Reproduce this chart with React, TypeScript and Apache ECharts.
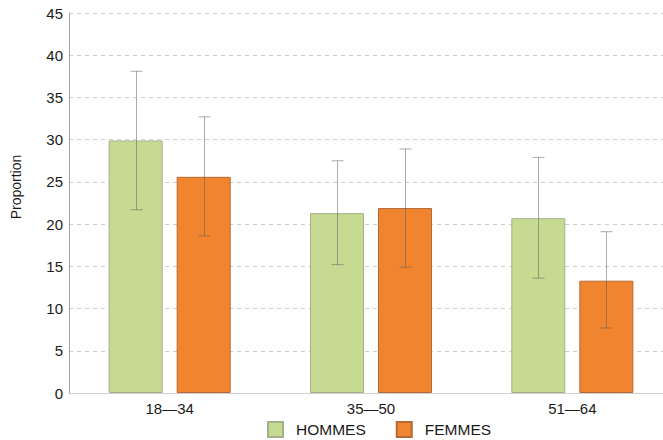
import React, { useEffect, useRef } from "react";
import * as echarts from "echarts";

const categories = ["18\u201434", "35\u201450", "51\u201464"];
const seriesNames = ["HOMMES", "FEMMES"];
const hommes = [29.9, 21.3, 20.7];
const femmes = [25.6, 21.9, 13.3];
const hommesLow = [21.7, 15.2, 13.6];
const hommesHigh = [38.1, 27.5, 27.9];
const femmesLow = [18.6, 14.9, 7.7];
const femmesHigh = [32.7, 28.9, 19.1];

const FONT = "Liberation Sans, Arial, sans-serif";
const BAR_W = 54;
const OFFSET = 34;

function errorSeries(low: number[], high: number[], dir: number) {
  return {
    type: "custom",
    silent: true,
    z: 5,
    data: low.map((l, i) => [i, l, high[i]]),
    encode: { x: 0, y: [1, 2] },
    renderItem: (params: any, api: any) => {
      const i = api.value(0);
      const lo = api.coord([i, api.value(1)]);
      const hi = api.coord([i, api.value(2)]);
      const x = Math.round(lo[0] + dir * OFFSET) + 0.5;
      const cap = 6;
      const style = { stroke: "rgba(90,90,90,0.5)", lineWidth: 1 };
      return {
        type: "group",
        children: [
          { type: "line", shape: { x1: x, y1: lo[1], x2: x, y2: hi[1] }, style },
          { type: "line", shape: { x1: x - cap, y1: lo[1], x2: x + cap, y2: lo[1] }, style },
          { type: "line", shape: { x1: x - cap, y1: hi[1], x2: x + cap, y2: hi[1] }, style },
        ],
      };
    },
  };
}

export default function App() {
  const ref = useRef<HTMLDivElement>(null);
  useEffect(() => {
    const chart = echarts.init(ref.current!, null, { renderer: "svg" });
    chart.setOption({
      animation: false,
      textStyle: { fontFamily: FONT },
      grid: { left: 69, right: -10, top: 13, bottom: 47, outerBoundsMode: "none", containLabel: false },
      legend: {
        data: seriesNames,
        left: 267,
        top: 421,
        padding: 0,
        itemWidth: 15,
        itemHeight: 15,
        itemGap: 30,
        icon: "rect",
        textStyle: { fontSize: 15.5, color: "#1a1a1a", fontFamily: FONT, padding: [0, 0, 0, 8] },
      },
      graphic: [
        {
          type: "text",
          x: 16,
          y: 187,
          rotation: Math.PI / 2,
          style: {
            text: "Proportion",
            fontSize: 14,
            fill: "#1a1a1a",
            fontFamily: FONT,
            align: "center",
            verticalAlign: "middle",
          },
        },
      ],
      xAxis: {
        type: "category",
        data: categories,
        axisLine: { lineStyle: { color: "#d0d0d0" } },
        axisTick: { show: false },
        axisLabel: { fontSize: 15, color: "#1a1a1a", margin: 8, fontFamily: FONT },
      },
      yAxis: {
        type: "value",
        min: 0,
        max: 45,
        interval: 5,
        axisLine: { show: true, lineStyle: { color: "#a0a0a0" } },
        axisTick: { show: false },
        axisLabel: { fontSize: 15, color: "#1a1a1a", margin: 6, fontFamily: FONT },
        splitLine: { lineStyle: { color: "#cfcfcf", type: [4, 4] } },
      },
      series: [
        {
          name: seriesNames[0],
          type: "bar",
          data: hommes,
          barWidth: BAR_W,
          barGap: "26%",
          itemStyle: { color: "#c7da91", borderColor: "#a3b08a", borderWidth: 1 },
        },
        {
          name: seriesNames[1],
          type: "bar",
          data: femmes,
          barWidth: BAR_W,
          itemStyle: { color: "#f0842f", borderColor: "#b46a36", borderWidth: 1 },
        },
        errorSeries(hommesLow, hommesHigh, -1),
        errorSeries(femmesLow, femmesHigh, 1),
      ],
    });
    return () => chart.dispose();
  }, []);
  return <div ref={ref} style={{ width: 663, height: 440, position: "absolute", left: 0, top: 0 }} />;
}
